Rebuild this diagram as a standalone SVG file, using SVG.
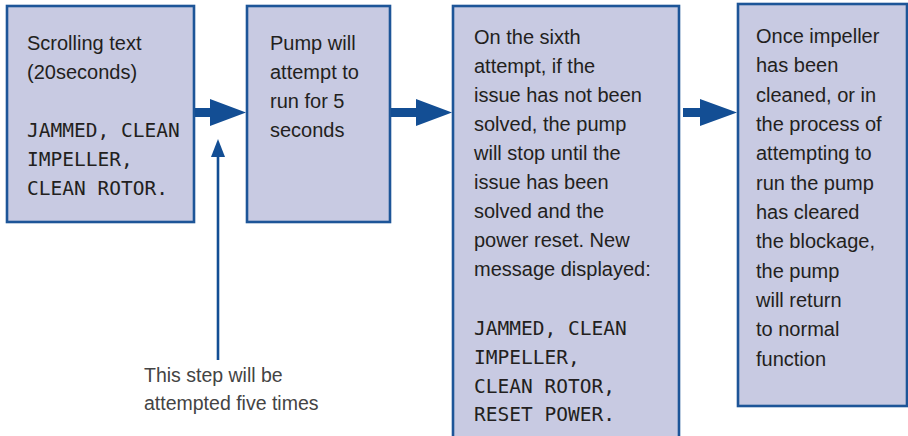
<svg xmlns="http://www.w3.org/2000/svg" width="908" height="436" viewBox="0 0 908 436">
<style>
.box{fill:#c8cae2;stroke:#1d5598;stroke-width:2.6}
.t{font-family:"Liberation Sans",Arial,sans-serif;font-size:20px;fill:#231f20}
.m{font-family:"DejaVu Sans Mono","Liberation Mono",monospace;font-size:19.5px;fill:#231f20}
.note{font-family:"Liberation Sans",Arial,sans-serif;font-size:19.5px;fill:#444444}
.arr{fill:#134e94}
</style>
<rect width="908" height="436" fill="#ffffff"/>
<g id="node1">
<rect class="box" x="7" y="6" width="187" height="216"/>
<text class="t" x="27" y="50">Scrolling text</text>
<text class="t" x="27" y="79">(20seconds)</text>
<text class="m" x="27" y="137">JAMMED, CLEAN</text>
<text class="m" x="27" y="166">IMPELLER,</text>
<text class="m" x="27" y="195">CLEAN ROTOR.</text>
</g>
<g id="node2">
<rect class="box" x="247" y="6" width="143" height="216"/>
<text class="t" x="270" y="50">Pump will</text>
<text class="t" x="270" y="79">attempt to</text>
<text class="t" x="270" y="108">run for 5</text>
<text class="t" x="270" y="137">seconds</text>
</g>
<g id="node3">
<rect class="box" x="453" y="6" width="226" height="440"/>
<text class="t" x="474" y="44">On the sixth</text>
<text class="t" x="474" y="73">attempt, if the</text>
<text class="t" x="474" y="102">issue has not been</text>
<text class="t" x="474" y="131">solved, the pump</text>
<text class="t" x="474" y="160">will stop until the</text>
<text class="t" x="474" y="189">issue has been</text>
<text class="t" x="474" y="218">solved and the</text>
<text class="t" x="474" y="247">power reset. New</text>
<text class="t" x="474" y="276">message displayed:</text>
<text class="m" x="474" y="335">JAMMED, CLEAN</text>
<text class="m" x="474" y="364">IMPELLER,</text>
<text class="m" x="474" y="393">CLEAN ROTOR,</text>
<text class="m" x="474" y="421">RESET POWER.</text>
</g>
<g id="node4">
<rect class="box" x="738" y="4" width="169" height="402"/>
<text class="t" x="756" y="43">Once impeller</text>
<text class="t" x="756" y="72">has been</text>
<text class="t" x="756" y="102">cleaned, or in</text>
<text class="t" x="756" y="131">the process of</text>
<text class="t" x="756" y="160">attempting to</text>
<text class="t" x="756" y="190">run the pump</text>
<text class="t" x="756" y="219">has cleared</text>
<text class="t" x="756" y="248">the blockage,</text>
<text class="t" x="756" y="278">the pump</text>
<text class="t" x="756" y="307">will return</text>
<text class="t" x="756" y="336">to normal</text>
<text class="t" x="756" y="366">function</text>
</g>
<g id="note">
<text class="note" x="144" y="382">This step will be</text>
<text class="note" x="144" y="410">attempted five times</text>
</g>
<g id="connectors">
<polygon class="arr" points="195,108 210,108 210,99 246,112.5 210,126 210,117 195,117"/>
<polygon class="arr" points="391,108 416,108 416,99 452,112.5 416,126 416,117 391,117"/>
<polygon class="arr" points="683,108 700,108 700,99 737,112.5 700,126 700,117 683,117"/>
<line x1="218" y1="360" x2="218" y2="155" stroke="#134e94" stroke-width="2.6"/>
<polygon class="arr" points="218,139 225,157 211,157"/>
</g>
</svg>
